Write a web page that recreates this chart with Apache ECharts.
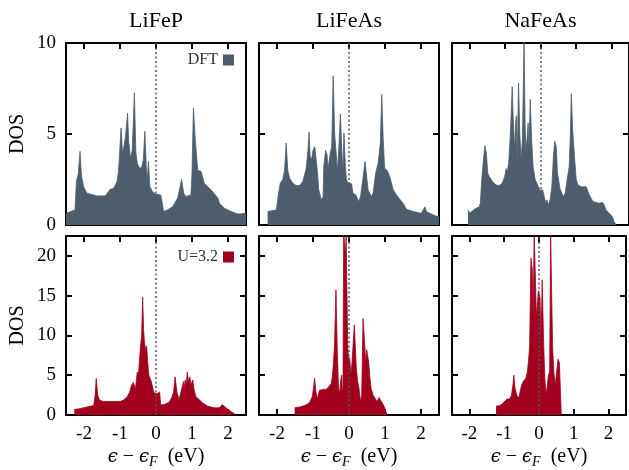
<!DOCTYPE html>
<html>
<head>
<meta charset="utf-8">
<title>DOS LiFeP / LiFeAs / NaFeAs</title>
<script src="https://cdn.jsdelivr.net/npm/echarts@6/dist/echarts.min.js"></script>
<style>
  html, body { margin: 0; padding: 0; background: #fff; }
  #dos-chart { width: 629px; height: 470px; }
</style>
</head>
<body>
<div id="dos-chart"></div>
<script>
var compounds = ['LiFeP', 'LiFeAs', 'NaFeAs'];
var seriesNames = ['DFT', 'U=3.2'];
var xTicks = [-2, -1, 0, 1, 2];
var dftTicks = [0, 5, 10];
var uTicks = [0, 5, 10, 15, 20];

// DFT, top row
var lifepDftE = [-2.5, -2.25, -2.23, -2.21, -2.16, -2.11, -2.08, -2.06, -2.01, -1.92, -1.64, -1.41, -1.32, -1.27, -1.18, -1.08, -1.04, -0.97, -0.93, -0.90, -0.85, -0.79, -0.76, -0.71, -0.66, -0.60, -0.56, -0.52, -0.48, -0.41, -0.35, -0.31, -0.27, -0.24, -0.21, -0.17, -0.10, -0.01, 0.04, 0.13, 0.16, 0.21, 0.32, 0.46, 0.60, 0.67, 0.71, 0.77, 0.83, 0.97, 1.00, 1.04, 1.09, 1.16, 1.25, 1.34, 1.53, 1.72, 1.76, 1.90, 2.09, 2.28, 2.5];
var lifepDftD = [0.64, 0.83, 0.9, 2.4, 2.8, 4.05, 3.0, 2.6, 2.1, 1.75, 1.6, 1.6, 1.84, 1.97, 2.0, 2.4, 3.0, 5.33, 3.95, 4.2, 4.8, 6.15, 4.6, 3.7, 4.1, 7.26, 4.0, 3.4, 3.2, 3.1, 3.6, 5.15, 3.2, 2.5, 3.5, 2.1, 1.84, 1.7, 1.65, 1.65, 1.38, 0.74, 0.83, 1.0, 1.47, 2.1, 2.5, 1.75, 1.56, 1.65, 2.85, 6.43, 4.7, 3.0, 2.95, 2.3, 1.93, 1.47, 1.2, 0.92, 0.74, 0.6, 0.64];

var lifeasDftE = [-2.26, -2.21, -2.02, -1.98, -1.95, -1.91, -1.84, -1.79, -1.745, -1.70, -1.65, -1.56, -1.47, -1.37, -1.28, -1.19, -1.14, -1.11, -1.08, -1.04, -1.00, -0.95, -0.91, -0.88, -0.84, -0.77, -0.72, -0.70, -0.65, -0.61, -0.585, -0.56, -0.52, -0.48, -0.44, -0.40, -0.35, -0.325, -0.28, -0.24, -0.20, -0.17, -0.14, -0.10, -0.07, -0.03, 0.07, 0.11, 0.19, 0.23, 0.27, 0.32, 0.37, 0.41, 0.445, 0.48, 0.53, 0.62, 0.67, 0.74, 0.81, 0.87, 0.91, 0.95, 0.99, 1.06, 1.13, 1.23, 1.32, 1.41, 1.50, 1.60, 1.78, 2.01, 2.06, 2.11, 2.15, 2.34, 2.5];
var lifeasDftD = [0.74, 0.78, 0.83, 0.92, 1.84, 2.3, 2.5, 3.0, 4.5, 3.0, 2.57, 2.3, 2.17, 2.17, 2.4, 3.1, 4.1, 5.1, 3.77, 3.6, 4.1, 4.3, 4.2, 3.0, 1.93, 1.38, 1.56, 3.2, 4.1, 3.85, 3.1, 3.4, 3.95, 4.3, 8.2, 5.05, 3.77, 2.94, 4.3, 6.1, 4.1, 2.94, 5.05, 3.2, 2.48, 2.33, 2.26, 1.75, 1.65, 1.75, 1.29, 1.56, 2.3, 2.94, 3.5, 2.85, 1.93, 1.56, 1.75, 2.85, 3.4, 4.5, 7.17, 4.7, 3.1, 3.0, 2.67, 1.93, 1.65, 1.42, 1.2, 0.86, 0.74, 0.64, 0.83, 1.0, 0.74, 0.55, 0.44];

var nafeasDftE = [-2.05, -2.00, -1.91, -1.82, -1.73, -1.70, -1.66, -1.62, -1.57, -1.53, -1.49, -1.45, -1.36, -1.26, -1.17, -1.08, -1.01, -0.97, -0.94, -0.90, -0.86, -0.83, -0.80, -0.77, -0.73, -0.705, -0.68, -0.66, -0.62, -0.585, -0.55, -0.51, -0.464, -0.436, -0.41, -0.38, -0.35, -0.325, -0.29, -0.25, -0.21, -0.15, -0.08, -0.01, 0.06, 0.10, 0.15, 0.18, 0.22, 0.27, 0.32, 0.36, 0.40, 0.445, 0.48, 0.55, 0.64, 0.70, 0.75, 0.81, 0.845, 0.87, 0.91, 0.96, 1.01, 1.06, 1.15, 1.29, 1.38, 1.48, 1.66, 1.75, 1.80, 1.85, 1.94, 2.03, 2.08, 2.14];
var nafeasDftD = [0.83, 0.64, 0.79, 0.92, 1.0, 1.2, 2.48, 3.4, 4.36, 3.95, 2.85, 2.67, 2.4, 2.2, 2.17, 2.3, 2.67, 3.1, 2.9, 3.4, 4.7, 6.0, 7.6, 5.8, 4.1, 5.6, 6.0, 3.4, 7.8, 5.05, 3.6, 4.7, 10.3, 5.6, 4.1, 4.7, 5.6, 4.1, 6.9, 4.7, 3.2, 2.48, 2.2, 1.9, 1.93, 1.84, 1.2, 1.38, 1.1, 1.38, 2.1, 3.6, 4.6, 4.3, 2.85, 2.0, 1.56, 1.75, 2.48, 3.2, 5.05, 7.22, 5.2, 3.77, 2.48, 2.2, 2.1, 2.1, 1.65, 1.29, 1.2, 1.24, 1.1, 0.83, 0.64, 0.46, 0.18, 0];

// U = 3.2, bottom row
var lifepUE = [-2.27, -2.11, -1.92, -1.73, -1.69, -1.66, -1.62, -1.57, -1.47, -1.27, -0.99, -0.90, -0.80, -0.73, -0.68, -0.63, -0.59, -0.57, -0.52, -0.49, -0.47, -0.43, -0.40, -0.37, -0.345, -0.32, -0.29, -0.26, -0.23, -0.20, -0.13, -0.075, -0.04, 0.0, 0.04, 0.10, 0.13, 0.22, 0.36, 0.43, 0.49, 0.53, 0.58, 0.64, 0.69, 0.74, 0.765, 0.78, 0.81, 0.84, 0.87, 0.90, 0.94, 0.97, 1.02, 1.06, 1.11, 1.16, 1.30, 1.44, 1.62, 1.76, 1.84, 1.88, 2.00, 2.09, 2.18, 2.23];
var lifepUD = [0.7, 0.8, 1.0, 1.2, 2.5, 4.6, 2.5, 1.9, 1.7, 1.7, 1.7, 1.9, 2.3, 2.9, 3.75, 4.1, 3.9, 3.3, 5.4, 5.0, 6.2, 8.65, 9.9, 14.8, 10.7, 9.1, 8.2, 8.65, 6.6, 5.0, 4.2, 3.1, 2.7, 2.5, 2.7, 2.9, 1.3, 1.3, 1.6, 2.1, 2.9, 4.8, 2.9, 1.9, 2.1, 3.75, 4.2, 3.1, 4.4, 3.75, 5.4, 4.2, 4.8, 3.75, 4.4, 3.1, 2.3, 2.1, 1.5, 1.1, 0.9, 0.9, 1.3, 1.1, 0.7, 0.4, 0.15, 0];

var lifeasUE = [-1.51, -1.37, -1.23, -1.14, -1.08, -1.02, -0.985, -0.956, -0.92, -0.88, -0.855, -0.82, -0.72, -0.63, -0.56, -0.49, -0.46, -0.43, -0.40, -0.362, -0.325, -0.29, -0.26, -0.23, -0.204, -0.186, -0.167, -0.148, -0.12, -0.105, -0.093, -0.08, -0.065, -0.037, -0.009, 0.019, 0.056, 0.084, 0.111, 0.148, 0.176, 0.204, 0.241, 0.278, 0.316, 0.353, 0.39, 0.427, 0.464, 0.492, 0.52, 0.548, 0.575, 0.613, 0.668, 0.715, 0.78, 0.835, 0.872, 0.928, 0.993, 1.04, 1.058];
var lifeasUD = [0.9, 1.0, 1.2, 1.4, 1.7, 2.3, 3.35, 4.6, 2.9, 2.0, 2.5, 3.1, 3.2, 3.25, 3.55, 4.0, 5.0, 6.6, 9.1, 15.7, 7.9, 3.35, 2.7, 4.4, 5.0, 2.9, 3.3, 23, 23, 20.5, 19.7, 23, 23, 8.9, 6.6, 7.2, 5.0, 6.6, 8.65, 11.3, 8.65, 5.8, 4.2, 3.35, 1.7, 2.5, 12.1, 9.5, 6.6, 8.2, 8.45, 6.6, 5.0, 3.35, 2.5, 2.3, 1.7, 2.2, 1.9, 1.5, 0.9, 0.7, 0];

var nafeasUE = [-1.234, -1.12, -1.01, -0.92, -0.845, -0.79, -0.75, -0.724, -0.687, -0.64, -0.585, -0.53, -0.50, -0.455, -0.38, -0.334, -0.306, -0.269, -0.232, -0.195, -0.167, -0.139, -0.102, -0.074, -0.046, -0.019, 0.028, 0.056, 0.093, 0.13, 0.167, 0.204, 0.241, 0.269, 0.306, 0.334, 0.362, 0.39, 0.427, 0.464, 0.51, 0.548, 0.585, 0.613, 0.64];
var nafeasUD = [1.1, 1.2, 1.6, 2.0, 2.0, 2.5, 3.75, 5.0, 3.35, 2.5, 2.1, 2.3, 3.75, 4.2, 4.6, 5.4, 6.6, 8.65, 19.7, 18.4, 12.3, 23, 23, 12.3, 12.1, 15.6, 14.8, 9.9, 17.0, 9.5, 4.6, 2.5, 3.75, 5.0, 5.4, 23, 23, 8.65, 5.4, 3.75, 3.75, 7.0, 6.6, 3.35, 0];

$init();

function $init() {
  var dosChart = echarts.init(document.getElementById('dos-chart'));
  var fontFamily = 'Liberation Serif';
  var colors = ['#4e5d6c', '#a1001f'];
  var energies = [[lifepDftE, lifeasDftE, nafeasDftE], [lifepUE, lifeasUE, nafeasUE]];
  var doses = [[lifepDftD, lifeasDftD, nafeasDftD], [lifepUD, lifeasUD, nafeasUD]];
  var yTicks = [dftTicks, uTicks];
  var yMax = [10, 22.5];
  var colLeft = [66, 259, 452],
    colWidth = [180, 180, 177],
    rowTop = [43, 236],
    rowHeight = [182, 183];

  var grids = [], xAxes = [], yAxes = [], series = [], titles = [];

  function xAxisFor(k, pos, showLabel) {
    return {
      type: 'value',
      gridIndex: k,
      position: pos,
      min: -2.5,
      max: 2.5,
      splitNumber: 5,
      axisLine: { show: true, onZero: false, lineStyle: { color: '#000', width: 2 } },
      axisTick: { show: true, inside: true, length: 6, lineStyle: { color: '#000', width: 2 } },
      axisLabel: {
        show: showLabel,
        margin: 10,
        fontFamily: fontFamily,
        fontSize: 19,
        color: '#000',
        formatter: function (v) {
          return xTicks.indexOf(v) > -1 ? String(v) : '';
        }
      },
      splitLine: { show: false },
      name: showLabel ? '{e|ϵ} − {e|ϵ}{s|F}  (eV)' : '',
      nameLocation: 'middle',
      nameGap: 30,
      nameTextStyle: {
        fontFamily: fontFamily,
        fontSize: 20,
        color: '#000',
        rich: {
          e: { fontFamily: 'DejaVu Serif', fontSize: 18, fontStyle: 'italic', color: '#000' },
          s: { fontFamily: fontFamily, fontSize: 14, fontStyle: 'italic', color: '#000', padding: [10, 0, 0, 0] }
        }
      }
    };
  }

  function yAxisFor(k, pos, showLabel, r) {
    return {
      type: 'value',
      gridIndex: k,
      position: pos,
      min: 0,
      max: yMax[r],
      interval: 5,
      axisLine: { show: true, onZero: false, lineStyle: { color: '#000', width: 2 } },
      axisTick: { show: true, inside: true, length: 6, lineStyle: { color: '#000', width: 2 } },
      axisLabel: {
        show: showLabel,
        margin: 10,
        fontFamily: fontFamily,
        fontSize: 19,
        color: '#000',
        formatter: function (v) {
          return yTicks[r].indexOf(v) > -1 ? String(v) : '';
        }
      },
      splitLine: { show: false },
      name: showLabel ? 'DOS' : '',
      nameLocation: 'middle',
      nameRotate: 90,
      nameGap: 38,
      nameTextStyle: { fontFamily: fontFamily, fontSize: 20, color: '#000' }
    };
  }

  for (var r = 0; r < 2; r++) {
    for (var c = 0; c < 3; c++) {
      var k = r * 3 + c;
      grids.push({ left: colLeft[c], width: colWidth[c], top: rowTop[r], height: rowHeight[r] });
      xAxes.push(xAxisFor(k, 'bottom', r === 1));
      xAxes.push(xAxisFor(k, 'top', false));
      yAxes.push(yAxisFor(k, 'left', c === 0, r));
      yAxes.push(yAxisFor(k, 'right', false, r));

      var e = energies[r][c], d = doses[r][c];
      var pts = e.map(function (x, j) {
        return [x, d[j]];
      });
      series.push({
        name: seriesNames[r],
        type: 'line',
        xAxisIndex: 2 * k,
        yAxisIndex: 2 * k,
        data: pts,
        symbol: 'none',
        showSymbol: false,
        clip: true,
        silent: true,
        itemStyle: { color: colors[r] },
        lineStyle: { color: colors[r], width: 0.8 },
        areaStyle: { color: colors[r], opacity: 1 },
        markLine: {
          silent: true,
          symbol: ['none', 'none'],
          label: { show: false },
          lineStyle: { color: '#555', width: 1.5, type: [2, 2.5] },
          data: [{ xAxis: 0 }]
        }
      });
    }
  }

  for (var i = 0; i < compounds.length; i++) {
    titles.push({
      text: compounds[i],
      left: colLeft[i] + colWidth[i] / 2,
      top: 10,
      padding: 0,
      textAlign: 'center',
      textStyle: { fontFamily: fontFamily, fontSize: 22, fontWeight: 'normal', color: '#000' }
    });
  }

  var legendBase = {
    icon: 'rect',
    align: 'right',
    itemWidth: 11,
    itemHeight: 11,
    padding: 0,
    right: 395,
    selectedMode: false,
    textStyle: { fontFamily: fontFamily, fontSize: 16, color: '#333' }
  };

  var option = {
    animation: false,
    backgroundColor: '#fff',
    title: titles,
    legend: [
      Object.assign({}, legendBase, { data: [seriesNames[0]], top: 52 }),
      Object.assign({}, legendBase, { data: [seriesNames[1]], top: 249 })
    ],
    grid: grids,
    xAxis: xAxes,
    yAxis: yAxes,
    series: series
  };
  dosChart.setOption(option);
}
</script>
</body>
</html>
